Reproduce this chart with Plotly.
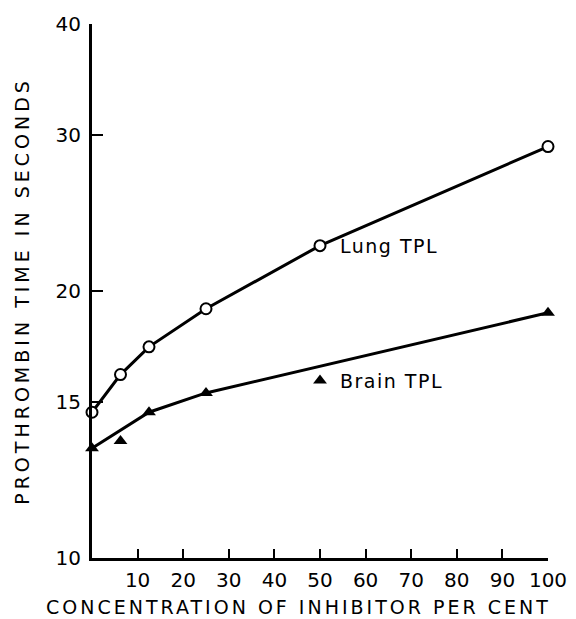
import math
import plotly.graph_objects as go

# Data
conc = [0, 6.25, 12.5, 25, 50, 100]
lung_time = [14.6, 16.1, 17.3, 19.1, 22.5, 29.1]
brain_time = [13.3, 13.55, 14.6, 15.35, 15.85, 18.9]
# brain line drawn through a subset of points
brain_line_conc = [0, 12.5, 25, 100]
brain_line_time = [13.3, 14.6, 15.35, 18.9]

x_ticks = [10, 20, 30, 40, 50, 60, 70, 80, 90, 100]
y_ticks = [10, 15, 20, 30, 40]

labels = ["Lung TPL", "Brain TPL"]
label_conc = [54, 54]
label_time = [22.5, 15.85]

FONT = "DejaVu Sans"


def spaced(text, px):
    return f'<span style="letter-spacing:{px}px">{text}</span>'


fig = go.Figure()
fig.add_trace(go.Scatter(
    x=brain_line_conc, y=brain_line_time, mode="lines",
    line=dict(color="black", width=3), cliponaxis=False, showlegend=False))
fig.add_trace(go.Scatter(
    x=conc, y=brain_time, mode="markers",
    marker=dict(symbol="triangle-up", size=12, color="black"),
    cliponaxis=False, showlegend=False))
fig.add_trace(go.Scatter(
    x=conc, y=lung_time, mode="lines+markers",
    line=dict(color="black", width=3),
    marker=dict(symbol="circle", size=11, color="white",
                line=dict(color="black", width=2)),
    cliponaxis=False, showlegend=False))

for txt, xc, yt in zip(labels, label_conc, label_time):
    fig.add_annotation(x=xc, y=math.log10(yt), text=spaced(txt, 1.5),
                       showarrow=False, xanchor="left", yanchor="middle",
                       font=dict(family=FONT, size=19, color="black"))

# x-axis title, placed slightly left of the plot centre as in the original
fig.add_annotation(xref="paper", yref="paper", x=0.452, y=0,
                   yshift=-49, xanchor="center", yanchor="middle",
                   text=spaced("CONCENTRATION OF INHIBITOR PER CENT", 3),
                   showarrow=False, font=dict(family=FONT, size=19, color="black"))

fig.update_layout(
    width=568, height=611,
    margin=dict(l=84, r=28, t=16, b=61),
    plot_bgcolor="white", paper_bgcolor="white",
    font=dict(family=FONT, color="black"),
    xaxis=dict(
        range=[0, 100], showgrid=False, zeroline=False, automargin=False,
        showline=True, linecolor="black", linewidth=3,
        tickmode="array", tickvals=x_ticks, ticktext=[str(v) for v in x_ticks],
        ticks="inside", ticklen=9, tickwidth=2, tickcolor="black",
        tickfont=dict(family=FONT, size=20), ticklabelstandoff=2,
    ),
    yaxis=dict(
        type="log", range=[1, 1.60206], showgrid=False, zeroline=False,
        automargin=False,
        showline=True, linecolor="black", linewidth=3,
        tickmode="array", tickvals=y_ticks, ticktext=[str(v) for v in y_ticks],
        ticks="inside", ticklen=11, tickwidth=2, tickcolor="black",
        tickfont=dict(family=FONT, size=20), ticklabelstandoff=4,
        title=dict(text=spaced("PROTHROMBIN TIME IN SECONDS", 4),
                   font=dict(family=FONT, size=19), standoff=21),
    ),
)

fig.write_html("out.html")
